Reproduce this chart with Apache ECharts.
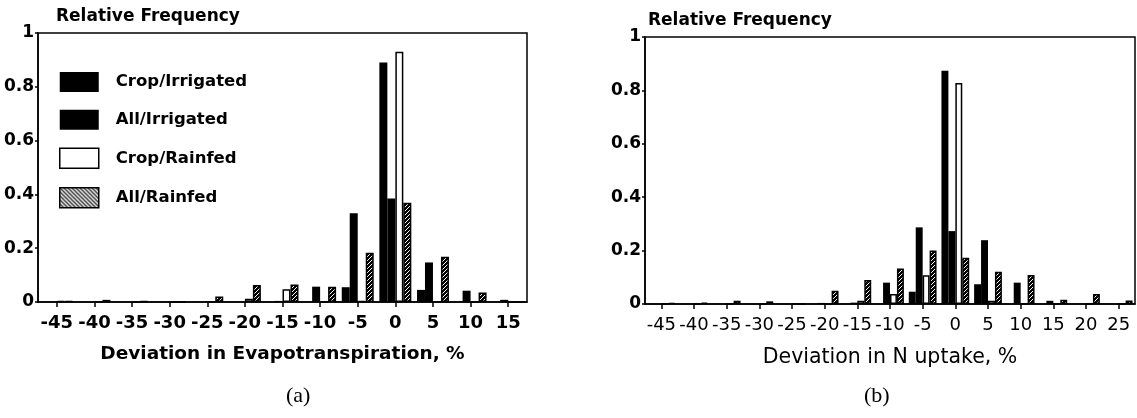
<!DOCTYPE html>
<html>
<head>
<meta charset="utf-8">
<script src="https://cdn.jsdelivr.net/npm/echarts@6/dist/echarts.min.js"></script>
<style>
html,body{margin:0;padding:0;background:#fff;}
#chart{width:1137px;height:418px;}
</style>
</head>
<body>
<div id="chart"></div>
<script>
// ---------- data ----------
const binsA = ['-45','-40','-35','-30','-25','-20','-15','-10','-5','0','5','10','15'];
const cropIrrA  = [0, 0, 0, 0, 0, 0, 0, 0, 0.055, 0.89, 0.045, 0, 0];
const allIrrA   = [0, 0, 0, 0, 0, 0, 0.004, 0.057, 0.33, 0.385, 0.147, 0.042, 0.008];
const cropRainA = [0.004, 0, 0, 0, 0, 0.012, 0.047, 0, 0.004, 0.93, 0, 0, 0];
const allRainA  = [0.003, 0.008, 0.003, 0, 0.02, 0.063, 0.065, 0.057, 0.183, 0.369, 0.168, 0.035, 0];

const binsB = ['-45','-40','-35','-30','-25','-20','-15','-10','-5','0','5','10','15','20','25'];
const cropIrrB  = [0, 0, 0, 0, 0, 0, 0, 0, 0.046, 0.874, 0.074, 0, 0, 0, 0];
const allIrrB   = [0, 0, 0, 0, 0, 0.004, 0.005, 0.08, 0.287, 0.273, 0.239, 0.08, 0.012, 0, 0];
const cropRainB = [0, 0, 0, 0, 0, 0, 0.012, 0.037, 0.108, 0.828, 0.012, 0, 0, 0, 0];
const allRainB  = [0.004, 0.005, 0.012, 0.01, 0, 0.05, 0.09, 0.133, 0.2, 0.173, 0.121, 0.109, 0.016, 0.037, 0.013];

const seriesNames = ['Crop/Irrigated', 'All/Irrigated', 'Crop/Rainfed', 'All/Rainfed'];
const yTicks = [0, 0.2, 0.4, 0.6, 0.8, 1];

// ---------- patterns ----------
function hatchBar(){
  const c = document.createElement('canvas'); c.width = 4; c.height = 4;
  const g = c.getContext('2d');
  g.fillStyle = '#000'; g.fillRect(0,0,4,4);
  g.strokeStyle = '#fff'; g.lineWidth = 1;
  g.beginPath(); g.moveTo(0,4); g.lineTo(4,0); g.stroke();
  return c;
}
function hatchLegend(){
  const c = document.createElement('canvas'); c.width = 4; c.height = 4;
  const g = c.getContext('2d');
  g.fillStyle = '#fff'; g.fillRect(0,0,4,4);
  g.strokeStyle = '#222'; g.lineWidth = 1.3;
  g.beginPath(); g.moveTo(0,0); g.lineTo(4,4); g.stroke();
  g.beginPath(); g.moveTo(-1,3); g.lineTo(1,5); g.stroke();
  g.beginPath(); g.moveTo(3,-1); g.lineTo(5,1); g.stroke();
  return c;
}
const barPattern = {image: hatchBar(), repeat: 'repeat'};
const legPattern = {image: hatchLegend(), repeat: 'repeat'};

const FONT = 'DejaVu Sans';

function styles(i){
  if (i === 0 || i === 1) return {color:'#000', borderColor:'#000', borderWidth:0};
  if (i === 2) return {color:'#fff', borderColor:'#000', borderWidth:1.5};
  return {color: barPattern, borderColor:'#000', borderWidth:1.5};
}

function makeSeries(idx, arrs){
  return arrs.map((d, i) => ({
    name: seriesNames[i],
    type: 'bar',
    xAxisIndex: idx, yAxisIndex: idx,
    data: d,
    barGap: '0%',
    barCategoryGap: '15%',
    itemStyle: styles(i),
    emphasis: {disabled: true},
    animation: false
  }));
}

function xAxis(idx, cats, name, bold, nameSize, nameGap){
  return {
    type: 'category', gridIndex: idx, data: cats,
    axisLine: {show: true, lineStyle: {color:'#000', width: 1.5}},
    axisTick: {show: true, alignWithLabel: true, length: 5, lineStyle: {color:'#000', width: 1.5}},
    axisLabel: {interval: 0, margin: 12, color:'#000', fontFamily: FONT,
                fontSize: 18, fontWeight: bold ? 'bold' : 'normal'},
    name: name, nameLocation: 'middle', nameGap: nameGap,
    nameTextStyle: {color:'#000', fontFamily: FONT, fontSize: nameSize, fontWeight: bold ? 'bold' : 'normal'}
  };
}
function yAxis(idx){
  return {
    type: 'value', gridIndex: idx, min: 0, max: 1, interval: 0.2,
    axisLine: {show: true, lineStyle: {color:'#000', width: 1.5}},
    axisTick: {show: true, length: 3, lineStyle: {color:'#000', width: 1.5}},
    splitLine: {show: false},
    axisLabel: {margin: 4, color:'#000', fontFamily: FONT, fontSize: 17, fontWeight: 'bold',
      formatter: v => (yTicks.indexOf(Math.round(v*10)/10) >= 0 ? String(Math.round(v*10)/10) : '')}
  };
}

const chart = echarts.init(document.getElementById('chart'), null, {renderer: 'canvas'});
chart.setOption({
  backgroundColor: '#fff',
  animation: false,
  title: [
    {text: 'Relative Frequency', left: 56, top: 8, padding: 0,
     textStyle: {fontFamily: FONT, fontSize: 17, fontWeight: 'bold', color: '#000'}},
    {text: 'Relative Frequency', left: 648, top: 12, padding: 0,
     textStyle: {fontFamily: FONT, fontSize: 17, fontWeight: 'bold', color: '#000'}},
    {text: '(a)', left: 286, top: 385, padding: 0,
     textStyle: {fontFamily: 'Liberation Serif', fontSize: 22, fontWeight: 'normal', color: '#000'}},
    {text: '(b)', left: 864, top: 385, padding: 0,
     textStyle: {fontFamily: 'Liberation Serif', fontSize: 22, fontWeight: 'normal', color: '#000'}}
  ],
  legend: {
    orient: 'vertical', left: 59, top: 72, padding: 0,
    itemWidth: 39, itemHeight: 20, itemGap: 17.8,
    selectedMode: false,
    icon: 'rect',
    textStyle: {fontFamily: FONT, fontSize: 16.5, fontWeight: 'bold', color: '#000', padding: [0,0,0,12]},
    data: [
      {name: seriesNames[0]},
      {name: seriesNames[1]},
      {name: seriesNames[2], itemStyle: {color:'#fff', borderColor:'#000', borderWidth: 1.5}},
      {name: seriesNames[3], itemStyle: {color: legPattern, borderColor:'#000', borderWidth: 1.5}}
    ]
  },
  grid: [
    {left: 38, top: 33, width: 489, height: 269, show: true, borderColor: '#000', borderWidth: 1.5, containLabel: false},
    {left: 645, top: 37, width: 490, height: 267, show: true, borderColor: '#000', borderWidth: 1.5, containLabel: false}
  ],
  xAxis: [
    xAxis(0, binsA, 'Deviation in Evapotranspiration, %', true, 18.5, 43),
    xAxis(1, binsB, 'Deviation in N uptake, %', false, 20.5, 43)
  ],
  yAxis: [yAxis(0), yAxis(1)],
  series: [
    ...makeSeries(0, [cropIrrA, allIrrA, cropRainA, allRainA]),
    ...makeSeries(1, [cropIrrB, allIrrB, cropRainB, allRainB])
  ]
});
</script>
</body>
</html>
